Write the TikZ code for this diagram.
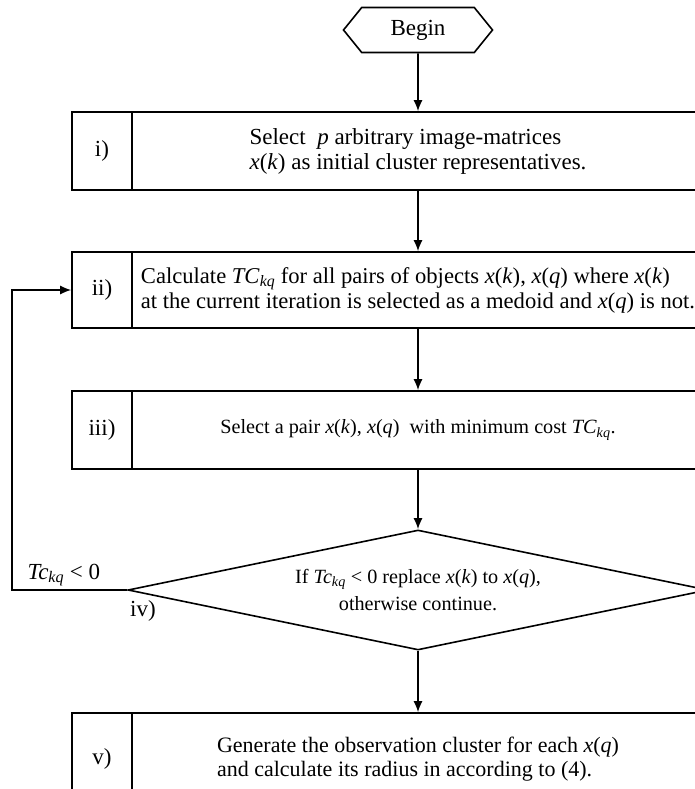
\documentclass[tikz,border=0pt]{standalone}
\usepackage{fontspec}
\setmainfont{Liberation Serif}
\usetikzlibrary{shapes, shapes.geometric, shapes.symbols, arrows.meta, positioning}
\tikzset{
	every node/.style={font=\fontsize{23}{25}\selectfont},
	% step number cell
	numcell/.style={
		draw,
		inner sep=0pt,
		minimum width=60pt
	}, %
	% step text cell
	txtcell/.style={
		draw,
		inner sep=0pt,
		minimum width=572pt,
		align=left
	}, %
	flow/.style={-{Latex[length=11pt,width=9pt]}}
}

\begin{document}
\begin{tikzpicture}[x=1pt,y=-1pt,line width=1.6pt]
			\clip (0,0) rectangle (695,789);
			
			% Begin
			\node [draw, shape=signal, signal to=west and east, signal pointer angle=102,
				minimum width=149pt, minimum height=45pt, inner sep=0pt] (begin) at (418,30) {Begin};
			
			% i)
			\node [numcell, minimum height=78pt] (n1) at (102,151) {i)};
			\node [txtcell, minimum height=78pt] (c1) at (418,151)
				{Select \ \textit{p} arbitrary image-matrices\\\textit{x}(\textit{k}) as initial cluster representatives.};
			
			% ii)
			\node [numcell, minimum height=76pt] (n2) at (102,290) {ii)};
			\node [txtcell, minimum height=76pt, font=\fontsize{22.6}{25}\selectfont] (c2) at (418,290)
				{Calculate \textit{TC}\textsubscript{\textit{kq}} for all pairs of objects \textit{x}(\textit{k}), \textit{x}(\textit{q}) where \textit{x}(\textit{k})\\at the current iteration is selected as a medoid and \textit{x}(\textit{q}) is not.};
			
			% iii)
			\node [numcell, minimum height=78pt] (n3) at (102,430) {iii)};
			\node [txtcell, minimum height=78pt, font=\fontsize{20.2}{25}\selectfont] (c3) at (418,430)
				{Select a pair \textit{x}(\textit{k}), \textit{x}(\textit{q}) \ with minimum cost \textit{TC}\textsubscript{\textit{kq}}.};
			
			% iv)
			\node [draw, diamond, shape aspect=4.83, minimum width=580pt, minimum height=120pt,
				inner sep=0pt, align=center, font=\fontsize{20.2}{27}\selectfont] (dia) at (418,590)
				{If \textit{Tc}\textsubscript{\textit{kq}} < 0 replace \textit{x}(\textit{k}) to \textit{x}(\textit{q}),\\otherwise continue.};
			\node (n4) at (143,611) {iv)};
			
			% v)
			\node [numcell, minimum height=92pt] (n5) at (102,759) {v)};
			\node [txtcell, minimum height=92pt, font=\fontsize{22}{24}\selectfont] (c5) at (418,759)
				{Generate the observation cluster for each \textit{x}(\textit{q})\\and calculate its radius in according to (4).};
			
			% arrows
			\draw[flow] (begin) -- (c1);
			\draw[flow] (c1) -- (c2);
			\draw[flow] (c2) -- (c3);
			\draw[flow] (c3) -- (dia);
			\draw[flow] (dia) -- (c5);
			
			% back to ii)
			\coordinate (back) at (12,590);
			\draw[flow] (dia.west) -- node [above, pos=0.55, inner sep=3pt] {\textit{Tc}\textsubscript{\textit{kq}} < 0} (back) |- (n2.west);
		\end{tikzpicture}
\end{document}
